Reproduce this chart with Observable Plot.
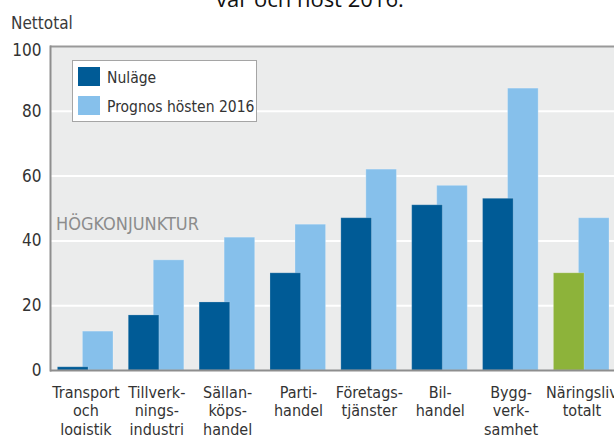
<!DOCTYPE html>
<html>
<head>
<meta charset="utf-8">
<script src="https://cdn.jsdelivr.net/npm/d3@7"></script>
<script src="https://cdn.jsdelivr.net/npm/@observablehq/plot@0.6"></script>
<style>
  html, body { margin: 0; padding: 0; background: #ffffff; }
  #wrap { position: relative; width: 614px; height: 435px; overflow: hidden;
          font-family: "DejaVu Sans Condensed", "Liberation Sans Narrow", "DejaVu Sans", sans-serif;
          font-stretch: condensed; }
  #chart { position: absolute; left: 0; top: 0; }
  .ov { position: absolute; white-space: nowrap; line-height: 1; }
  #title { font-family: "Open Sans", "Liberation Sans", sans-serif; font-stretch: normal; font-size: 22px; color: #111; left: 216px; top: -13px; line-height: 22px; }
  #ylabel { font-size: 17px; color: #3a3a3a; left: 11px; top: 15px; line-height: 17px; }
  #annot { font-size: 18px; color: #8c8c8c; left: 56px; top: 215px; line-height: 18px; }
  #legend { position: absolute; left: 72px; top: 60px; width: 185px; height: 62px; box-sizing: border-box;
            background: #ffffff; border: 1px solid #a5a5a5; }
  .sw { position: absolute; left: 5px; width: 22px; height: 19px; }
  .lt { position: absolute; left: 34px; font-size: 15.5px; color: #333; line-height: 16px; white-space: nowrap; }
</style>
</head>
<body>
<div id="wrap">
  <div id="chart"></div>
  <div id="title" class="ov"></div>
  <div id="ylabel" class="ov"></div>
  <div id="annot" class="ov"></div>
  <div id="legend"></div>
</div>
<script>
// ---- data ----
const categories = [
  "Transport\noch\nlogistik",
  "Tillverk-\nnings-\nindustri",
  "Sällan-\nköps-\nhandel",
  "Parti-\nhandel",
  "Företags-\ntjänster",
  "Bil-\nhandel",
  "Bygg-\nverk-\nsamhet",
  "Näringsliv\ntotalt"
];
const nulage  = [1, 17, 21, 30, 47, 51, 53, 30];
const prognos = [12, 34, 41, 45, 62, 57, 87, 47];
const seriesNames = ["Nuläge", "Prognos hösten 2016"];
const totalCategory = "Näringsliv\ntotalt";
const yTicks = [0, 20, 40, 60, 80, 100];
const titleText = "vår och höst 2016.";
const yLabelText = "Nettotal";
const annotationText = "HÖGKONJUNKTUR";

// ---- colours ----
const colNu = "#005b96";
const colProg = "#86c0eb";
const colTotal = "#8db33a";
const bg = "#ebecec";
const axisGrey = "#8e8e8e";

const nuData = categories.map((c, i) => ({category: c, value: nulage[i], fill: c === totalCategory ? colTotal : colNu}));
const progData = categories.map((c, i) => ({category: c, value: prognos[i]}));

const step = 70.86;
const font = '"DejaVu Sans Condensed", "Liberation Sans Narrow", "DejaVu Sans", sans-serif';

const chart = Plot.plot({
  width: 614,
  height: 435,
  marginTop: 46,
  marginBottom: 65,
  marginLeft: 50,
  marginRight: 0,
  style: {fontFamily: font, fontSize: "16px", background: "transparent", overflow: "hidden"},
  x: {type: "band", domain: categories, range: [50, 50 + step * categories.length], padding: 0, round: false, axis: null},
  y: {domain: [0, 100], axis: null},
  marks: [
    Plot.frame({fill: bg, stroke: null}),
    Plot.gridY([20, 40, 60, 80], {stroke: "#ffffff", strokeOpacity: 1, strokeWidth: 2}),
    Plot.ruleY([100], {stroke: "#999999", strokeWidth: 2}),
    Plot.barY(progData, {x: "category", y: "value", fill: colProg, insetLeft: 32.4, insetRight: 7.86,
      stroke: "#ffffff", strokeOpacity: 0.25, strokeWidth: 1}),
    Plot.barY(nuData, {x: "category", y: "value", fill: "fill", insetLeft: 7.4, insetRight: 32.86,
      stroke: "#ffffff", strokeOpacity: 0.2, strokeWidth: 1}),
    Plot.ruleY([0], {stroke: axisGrey, strokeWidth: 2}),
    Plot.frame({anchor: "left", stroke: axisGrey, strokeWidth: 2}),
    Plot.axisY(yTicks.filter(t => t < 100), {tickSize: 0, tickPadding: 9, fontSize: 17, fill: "#333333", label: null}),
    Plot.axisY([100], {tickSize: 0, tickPadding: 9, fontSize: 17, fill: "#333333", label: null, dy: 4}),
    Plot.axisX({tickSize: 0, tickPadding: 14, fontSize: 16, fill: "#333333", lineHeight: 1.16, label: null})
  ]
});
document.getElementById("chart").appendChild(chart);

document.getElementById("title").textContent = titleText;
document.getElementById("ylabel").textContent = yLabelText;
document.getElementById("annot").textContent = annotationText;

const legend = document.getElementById("legend");
[[seriesNames[0], colNu, 6, 13], [seriesNames[1], colProg, 35, 42]].forEach(([name, color, top, ttop]) => {
  const sw = document.createElement("div");
  sw.className = "sw";
  sw.style.top = top + "px";
  sw.style.background = color;
  legend.appendChild(sw);
  const t = document.createElement("div");
  t.className = "lt";
  t.style.top = (ttop - 4) + "px";
  t.textContent = name;
  legend.appendChild(t);
});
</script>
</body>
</html>
